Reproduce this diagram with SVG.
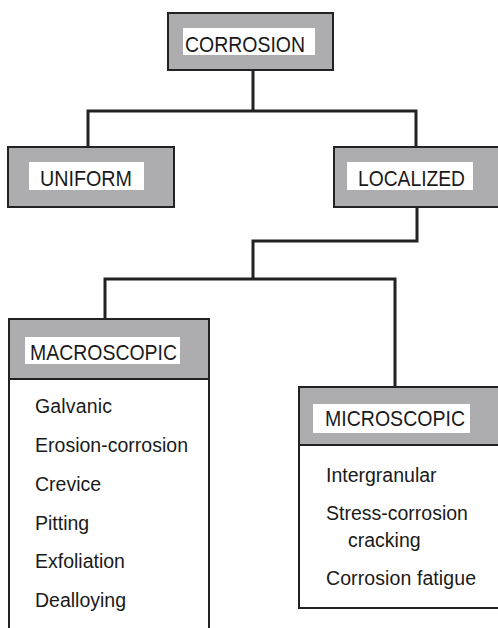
<svg xmlns="http://www.w3.org/2000/svg" width="498" height="628" viewBox="0 0 498 628">
<style>
.box{fill:#adadaf;stroke:#222;stroke-width:2}
.body{fill:#fff;stroke:#222;stroke-width:2}
.lbl{fill:#fff;stroke:none}
.hd{font-family:"Liberation Sans",Arial,sans-serif;font-size:22px;fill:#1a1a1a}
.tx{font-family:"Liberation Sans",Arial,sans-serif;font-size:19.5px;fill:#1a1a1a}
.con{fill:none;stroke:#222;stroke-width:3}
</style>
<rect width="498" height="628" fill="#fff"/>
<g id="connectors">
<path class="con" d="M253 70V111M88 147V111H416V147"/>
<path class="con" d="M417 207V241H253V279M105 319V279H395V387"/>
</g>
<g id="corrosion">
<rect class="box" x="168" y="13" width="165" height="57"/>
<rect class="lbl" x="183" y="28" width="132" height="27"/>
<text class="hd" x="185" y="52" textLength="120" lengthAdjust="spacingAndGlyphs">CORROSION</text>
</g>
<g id="uniform">
<rect class="box" x="8" y="147" width="166" height="60"/>
<rect class="lbl" x="29" y="162" width="115" height="28"/>
<text class="hd" x="40" y="186" textLength="92" lengthAdjust="spacingAndGlyphs">UNIFORM</text>
</g>
<g id="localized">
<rect class="box" x="334" y="147" width="170" height="60"/>
<rect class="lbl" x="347" y="162" width="126" height="28"/>
<text class="hd" x="358" y="186" textLength="107" lengthAdjust="spacingAndGlyphs">LOCALIZED</text>
</g>
<g id="macroscopic">
<rect class="body" x="9" y="319" width="200" height="320"/>
<rect class="box" x="9" y="319" width="200" height="60"/>
<rect class="lbl" x="25" y="337" width="155" height="27"/>
<text class="hd" x="30" y="360" textLength="147" lengthAdjust="spacingAndGlyphs">MACROSCOPIC</text>
<text class="tx" x="35" y="413" textLength="77" lengthAdjust="spacing">Galvanic</text>
<text class="tx" x="35" y="452" textLength="153" lengthAdjust="spacing">Erosion-corrosion</text>
<text class="tx" x="35" y="491">Crevice</text>
<text class="tx" x="35" y="530">Pitting</text>
<text class="tx" x="35" y="568">Exfoliation</text>
<text class="tx" x="35" y="607">Dealloying</text>
</g>
<g id="microscopic">
<rect class="body" x="299" y="387" width="210" height="221"/>
<rect class="box" x="299" y="387" width="210" height="58"/>
<rect class="lbl" x="313" y="404" width="157" height="29"/>
<text class="hd" x="325" y="426" textLength="140" lengthAdjust="spacingAndGlyphs">MICROSCOPIC</text>
<text class="tx" x="326" y="482">Intergranular</text>
<text class="tx" x="326" y="520">Stress-corrosion</text>
<text class="tx" x="348" y="547">cracking</text>
<text class="tx" x="326" y="585" textLength="150" lengthAdjust="spacing">Corrosion fatigue</text>
</g>
</svg>
